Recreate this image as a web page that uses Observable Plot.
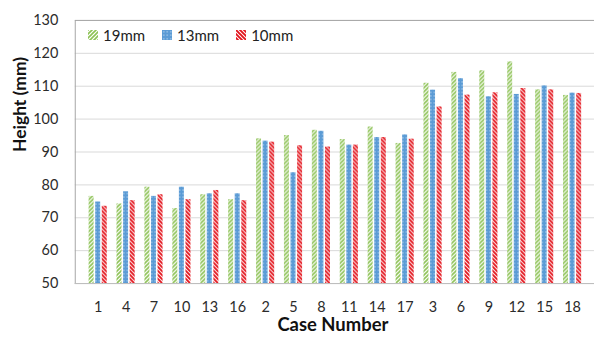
<!DOCTYPE html>
<html>
<head>
<meta charset="utf-8">
<script src="https://cdn.jsdelivr.net/npm/d3@7"></script>
<script src="https://cdn.jsdelivr.net/npm/@observablehq/plot@0.6"></script>
<style>
  html, body { margin: 0; padding: 0; background: #fff; }
  #wrap { position: relative; width: 594px; height: 339px; overflow: hidden; font-family: Lato, "Open Sans", sans-serif; }
  #legend { position: absolute; left: 88px; top: 26px; display: flex; align-items: center; font-size: 15px; color: #222; }
  #legend .item { display: flex; align-items: center; margin-right: 17px; }
  #legend svg { margin-right: 5px; }
</style>
</head>
<body>
<svg width="0" height="0" style="position:absolute">
  <defs>
    <pattern id="pat19" patternUnits="userSpaceOnUse" width="4" height="4">
      <rect width="4" height="4" fill="#fff"/>
      <path d="M-1,1 l2,-2 M0,4 l4,-4 M3,5 l2,-2" stroke="#8dc255" stroke-width="1.6"/>
    </pattern>
    <pattern id="pat13" patternUnits="userSpaceOnUse" width="3.5" height="3.5">
      <rect width="3.5" height="3.5" fill="#5b9bd5"/>
      <circle cx="1.75" cy="1.75" r="0.6" fill="#dbe9f7"/>
    </pattern>
    <pattern id="pat10" patternUnits="userSpaceOnUse" width="4" height="4">
      <rect width="4" height="4" fill="#fff"/>
      <path d="M-1,3 l2,2 M0,0 l4,4 M3,-1 l2,2" stroke="#e3131c" stroke-width="1.9"/>
    </pattern>
  </defs>
</svg>
<div id="wrap"><div id="legend"></div></div>
<script>
const cases = ["1","4","7","10","13","16","2","5","8","11","14","17","3","6","9","12","15","18"];
const series = ["19mm", "13mm", "10mm"];
const h19 = [76.5, 74.2, 79.3, 72.8, 77.0, 75.5, 94.0, 95.0, 96.6, 93.8, 97.6, 92.6, 110.9, 114.2, 114.7, 117.4, 108.9, 107.2];
const h13 = [74.8, 77.9, 76.5, 79.3, 77.3, 77.3, 93.3, 83.7, 96.3, 92.1, 94.4, 95.2, 108.8, 112.3, 106.8, 107.5, 110.1, 107.9];
const h10 = [73.5, 75.2, 77.0, 75.5, 78.3, 75.2, 93.0, 91.9, 91.5, 92.1, 94.4, 93.9, 103.7, 107.3, 108.0, 109.3, 108.9, 107.8];
const yTicks = [50, 60, 70, 80, 90, 100, 110, 120, 130];
const xLabel = "Case Number";
const yLabel = "Height (mm)";

const fills = {"19mm": "url(#pat19)", "13mm": "url(#pat13)", "10mm": "url(#pat10)"};
const offsets = {"19mm": -6.6, "13mm": 0, "10mm": 6.6};
const valuesBy = {"19mm": h19, "13mm": h13, "10mm": h10};

const rows = series.flatMap(s => cases.map((c, i) => ({case: c, series: s, value: valuesBy[s][i]})));
const base = yTicks[0];

const barMarks = series.map(s => Plot.barY(rows.filter(r => r.series === s), {
  x: "case", y1: () => base, y2: "value",
  fill: fills[s], dx: offsets[s], insetLeft: 11.5, insetRight: 11.5
}));

const chart = Plot.plot({
  width: 596,
  height: 339,
  marginLeft: 75,
  marginRight: 0,
  marginTop: 20,
  marginBottom: 55,
  style: {fontFamily: "Lato, 'Open Sans', sans-serif", background: "#fff"},
  x: {type: "band", domain: cases, padding: 0},
  y: {domain: [yTicks[0], yTicks[yTicks.length - 1]]},
  marks: [
    Plot.gridY(yTicks, {stroke: "#d9d9d9", strokeOpacity: 1}),
    ...barMarks,
    Plot.frame({stroke: "#a6a6a6"}),
    Plot.ruleY([yTicks[0]], {stroke: "#bfbfbf"}),
    Plot.axisY(yTicks, {tickSize: 0, tickPadding: 17, fontSize: 14.5, label: null, fill: "#2b2b2b"}),
    Plot.axisX({tickSize: 0, tickPadding: 18, fontSize: 14.5, label: null, fill: "#2b2b2b"}),
    Plot.text([yLabel], {text: d => d, frameAnchor: "left", rotate: -90, dx: -55, fontSize: 17.5, fontWeight: "bold", fill: "#111"}),
    Plot.text([xLabel], {text: d => d, frameAnchor: "bottom", lineAnchor: "middle", dy: 42, dx: -2, fontSize: 18.5, fontWeight: "bold", fill: "#111"})
  ]
});

const wrap = document.getElementById("wrap");
wrap.insertBefore(chart, wrap.firstChild);

const legend = d3.select("#legend");
series.forEach(s => {
  const item = legend.append("div").attr("class", "item");
  const sw = item.append("svg").attr("width", 10).attr("height", 10);
  sw.append("rect").attr("width", 10).attr("height", 10).attr("fill", fills[s]);
  item.append("span").text(s);
});
</script>
</body>
</html>
